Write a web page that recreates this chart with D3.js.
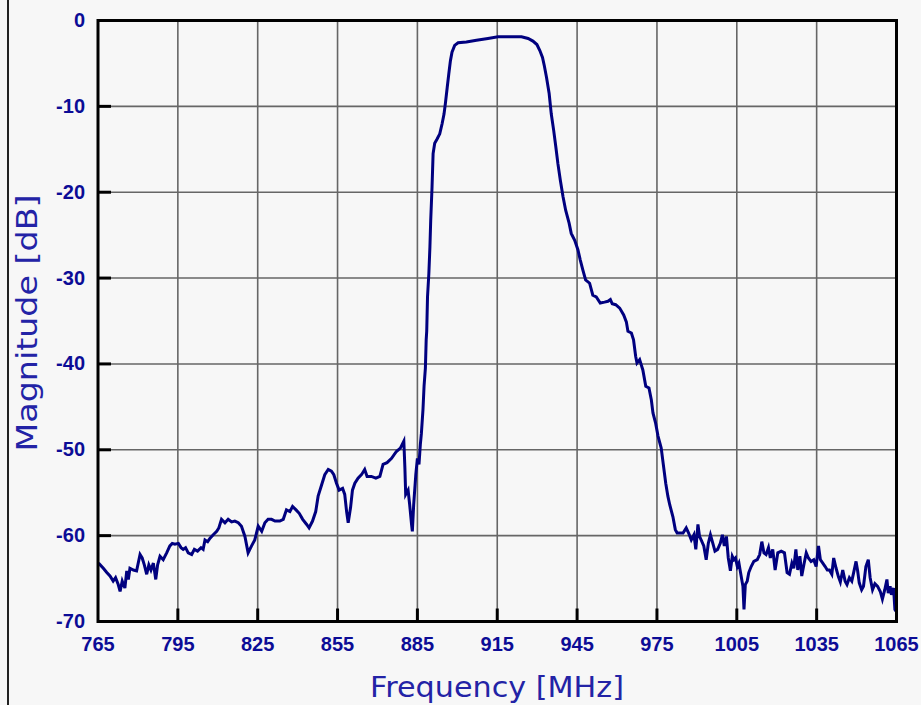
<!DOCTYPE html>
<html>
<head>
<meta charset="utf-8">
<script src="https://cdn.jsdelivr.net/npm/d3@7"></script>
<style>
  html, body { margin: 0; padding: 0; background: #f7f7f7; }
  svg { display: block; }
</style>
</head>
<body>
<svg id="chart" width="921" height="705"></svg>
<script>
const xTicks = [765, 795, 825, 855, 885, 915, 945, 975, 1005, 1035, 1065];
const yTicks = [0, -10, -20, -30, -40, -50, -60, -70];
const xTitle = "Frequency [MHz]";
const yTitle = "Magnitude [dB]";

const frequencyMHz = [
765.2,767.0,768.3,769.5,770.7,771.6,772.6,773.3,774.1,775.1,775.8,776.4,777.0,778.3,779.5,780.8,781.6,782.4,783.3,784.1,
784.9,785.8,786.7,787.4,788.3,789.5,790.8,792.0,792.9,793.9,795.2,796.2,797.0,797.9,798.9,800.2,801.2,802.4,803.7,804.5,
805.2,806.2,807.1,808.3,809.6,810.4,811.4,812.7,813.9,815.2,816.4,817.7,818.9,820.2,821.4,822.7,823.9,825.2,826.5,827.7,
828.9,830.2,831.5,833.3,834.6,835.8,837.1,838.1,839.4,840.6,841.9,843.4,844.3,845.6,846.8,847.7,849.0,850.2,851.5,852.7,
853.6,854.6,855.6,856.9,857.7,858.4,859.0,859.9,860.6,861.5,862.7,864.0,865.2,866.1,867.7,869.4,870.9,872.1,873.6,875.3,
877.1,878.6,879.9,880.3,880.6,881.5,882.1,882.8,883.1,883.6,884.4,885.0,885.6,886.1,886.5,887.1,887.5,888.0,888.3,888.5,
888.8,889.3,889.7,890.0,890.5,890.9,891.5,892.4,893.4,894.3,895.0,895.5,896.2,896.8,897.4,898.0,899.0,900.3,903.4,907.2,
911.5,915.3,919.7,924.1,926.6,928.4,929.9,931.0,932.0,932.7,933.5,934.5,935.3,936.2,937.0,937.8,938.7,939.7,940.7,942.0,
942.8,944.1,945.3,946.2,947.2,948.2,949.7,950.9,952.2,953.7,955.3,956.6,957.5,958.2,959.5,961.0,962.5,963.5,964.1,965.4,
966.2,967.0,967.5,968.5,969.7,970.8,972.0,972.9,973.5,974.5,975.4,976.6,977.3,978.3,979.1,979.8,981.0,981.9,982.6,983.5,
984.8,986.0,986.9,987.9,988.9,989.6,990.4,991.0,991.6,992.6,993.5,994.3,995.1,996.0,996.8,997.8,998.8,999.6,1000.3,1001.1,
1001.8,1002.6,1003.3,1003.9,1004.5,1005.2,1005.8,1006.4,1007.3,1007.7,1008.2,1008.9,1009.5,1010.4,1011.4,1012.7,1013.6,1014.4,1015.2,1016.0,
1016.9,1017.6,1018.5,1019.4,1020.4,1021.7,1022.9,1023.9,1024.8,1025.7,1026.4,1027.2,1027.9,1028.7,1029.4,1030.2,1031.1,1031.9,1032.9,1033.9,
1034.8,1035.7,1036.4,1037.3,1038.2,1039.0,1039.8,1040.7,1041.4,1042.3,1043.2,1043.9,1044.8,1045.7,1046.4,1047.3,1048.2,1048.9,1049.8,1050.4,
1051.0,1051.9,1052.6,1053.5,1054.4,1055.1,1056.0,1056.9,1057.9,1058.9,1059.7,1060.6,1061.4,1061.9,1062.6,1063.1,1063.9,1064.4,1064.8
];

const magnitudeDb = [
-63.2,-63.8,-64.3,-64.7,-65.3,-64.9,-65.7,-66.5,-65.3,-66.1,-64.1,-65.1,-63.8,-64.0,-64.1,-62.2,-62.6,-63.4,-64.5,-63.4,
-64.0,-63.2,-65.1,-63.4,-62.4,-62.8,-62.0,-61.2,-60.9,-61.0,-60.9,-61.4,-61.6,-61.4,-62.0,-62.2,-61.6,-61.8,-61.4,-61.6,
-60.5,-60.7,-60.3,-59.9,-59.5,-59.1,-58.1,-58.5,-58.1,-58.4,-58.3,-58.5,-58.9,-60.1,-62.0,-61.2,-60.5,-58.9,-59.5,-58.5,
-58.1,-58.1,-58.3,-58.3,-58.1,-57.0,-57.2,-56.6,-57.0,-57.4,-58.1,-58.7,-59.1,-58.3,-57.2,-55.4,-54.1,-52.9,-52.3,-52.5,
-52.9,-53.9,-54.7,-54.5,-55.2,-57.2,-58.5,-56.7,-54.7,-53.9,-53.3,-52.9,-52.3,-53.1,-53.1,-53.3,-53.1,-51.7,-51.5,-51.0,
-50.2,-49.8,-49.0,-52.1,-55.2,-54.7,-56.4,-58.7,-59.5,-56.4,-52.9,-51.0,-51.7,-49.4,-48.1,-45.3,-42.6,-40.5,-37.2,-36.2,
-32.2,-29.5,-26.4,-23.3,-19.4,-15.5,-14.3,-13.8,-13.2,-12.0,-10.9,-9.7,-7.8,-6.2,-4.7,-3.7,-2.9,-2.6,-2.5,-2.3,
-2.1,-1.9,-1.9,-1.9,-2.1,-2.4,-2.8,-3.5,-4.3,-5.3,-6.6,-8.5,-10.9,-12.8,-14.7,-16.7,-18.6,-20.5,-22.1,-23.6,
-24.8,-25.6,-26.7,-27.9,-29.1,-30.2,-30.6,-32.0,-32.2,-32.9,-32.8,-32.7,-32.5,-33.0,-33.1,-33.5,-34.3,-35.1,-36.2,-36.4,
-37.2,-39.1,-39.9,-39.5,-40.7,-42.6,-42.8,-44.2,-45.7,-46.9,-48.4,-49.8,-51.5,-53.9,-55.4,-56.4,-57.8,-59.3,-59.7,-59.7,
-59.7,-59.1,-59.7,-60.5,-59.9,-61.6,-58.7,-60.1,-60.5,-61.2,-62.8,-60.9,-59.9,-60.9,-61.8,-61.6,-60.9,-59.9,-61.2,-60.1,
-62.6,-64.1,-62.4,-62.8,-62.6,-63.6,-63.2,-64.3,-65.9,-68.6,-65.7,-65.3,-64.3,-63.6,-63.0,-62.8,-62.2,-60.7,-62.0,-62.2,
-61.4,-62.6,-61.6,-64.0,-62.0,-61.8,-62.0,-64.3,-64.5,-63.2,-63.8,-61.6,-64.0,-62.4,-64.7,-63.4,-62.0,-62.6,-63.0,-62.8,
-63.6,-61.2,-62.8,-63.2,-63.6,-64.0,-64.0,-64.5,-62.6,-63.8,-64.8,-65.4,-64.0,-65.3,-65.7,-64.9,-65.3,-64.3,-63.0,-64.1,
-65.5,-66.3,-65.9,-63.6,-62.8,-64.9,-66.3,-65.6,-65.9,-66.5,-67.4,-66.3,-65.1,-66.7,-65.9,-66.9,-66.1,-68.6,-68.8
];

const svg = d3.select("#chart");
const W = 921, H = 705;
const plotL = 98, plotR = 896.5, plotT = 20.5, plotB = 621.5;

svg.append("rect").attr("width", W).attr("height", H).attr("fill", "#f7f7f7");
svg.append("line").attr("x1", 8).attr("x2", 8).attr("y1", 0).attr("y2", H)
   .attr("stroke", "#222").attr("stroke-width", 2);

const x = d3.scaleLinear().domain([765, 1065]).range([plotL, plotR]);
const y = d3.scaleLinear().domain([-70, 0]).range([plotB, plotT]);

// grid
const grid = svg.append("g");
grid.append("g").selectAll("line").data(xTicks.slice(1, -1)).join("line")
  .attr("x1", d => x(d)).attr("x2", d => x(d)).attr("y1", plotT).attr("y2", plotB)
  .attr("stroke", "#666").attr("stroke-width", 1.6);
grid.append("g").selectAll("line").data(yTicks.slice(1, -1)).join("line")
  .attr("x1", plotL).attr("x2", plotR).attr("y1", d => y(d)).attr("y2", d => y(d))
  .attr("stroke", "#666").attr("stroke-width", 1.6);

// curve
const line = d3.line().x((d, i) => x(frequencyMHz[i])).y(d => y(d));
svg.append("path").datum(magnitudeDb).attr("d", line)
  .attr("fill", "none").attr("stroke", "#00007f").attr("stroke-width", 3)
  .attr("stroke-linejoin", "miter");

// frame
svg.append("rect").attr("x", plotL).attr("y", plotT).attr("width", plotR - plotL).attr("height", plotB - plotT)
  .attr("fill", "none").attr("stroke", "#000").attr("stroke-width", 3);

// ticks
svg.append("g").selectAll("line").data(xTicks.slice(1, -1)).join("line")
  .attr("x1", d => x(d)).attr("x2", d => x(d)).attr("y1", plotB).attr("y2", plotB - 13)
  .attr("stroke", "#000").attr("stroke-width", 3);
svg.append("g").selectAll("line").data(yTicks.slice(1, -1)).join("line")
  .attr("x1", plotL).attr("x2", plotL + 13).attr("y1", d => y(d)).attr("y2", d => y(d))
  .attr("stroke", "#000").attr("stroke-width", 3);

// tick labels
const labColor = "#0c0c96";
svg.append("g").selectAll("text").data(xTicks).join("text")
  .attr("x", d => x(d)).attr("y", 650.5).attr("text-anchor", "middle")
  .attr("font-family", "Liberation Sans, Arial, sans-serif").attr("font-weight", "bold")
  .attr("font-size", 20).attr("fill", labColor).text(d => d);
svg.append("g").selectAll("text").data(yTicks).join("text")
  .attr("x", 85).attr("y", d => y(d) + 6.5).attr("text-anchor", "end")
  .attr("font-family", "Liberation Sans, Arial, sans-serif").attr("font-weight", "bold")
  .attr("font-size", 20).attr("fill", labColor).text(d => d);

// axis titles
const titleColor = "#2323a6";
svg.append("text").attr("x", 497).attr("y", 697).attr("text-anchor", "middle")
  .attr("font-family", "DejaVu Sans, Verdana, sans-serif").attr("font-size", 28)
  .attr("textLength", 254).attr("lengthAdjust", "spacingAndGlyphs")
  .attr("fill", titleColor).text(xTitle);
svg.append("text").attr("transform", "translate(37,323) rotate(-90)").attr("text-anchor", "middle")
  .attr("font-family", "DejaVu Sans, Verdana, sans-serif").attr("font-size", 28)
  .attr("textLength", 257).attr("lengthAdjust", "spacingAndGlyphs")
  .attr("fill", titleColor).text(yTitle);
</script>
</body>
</html>
